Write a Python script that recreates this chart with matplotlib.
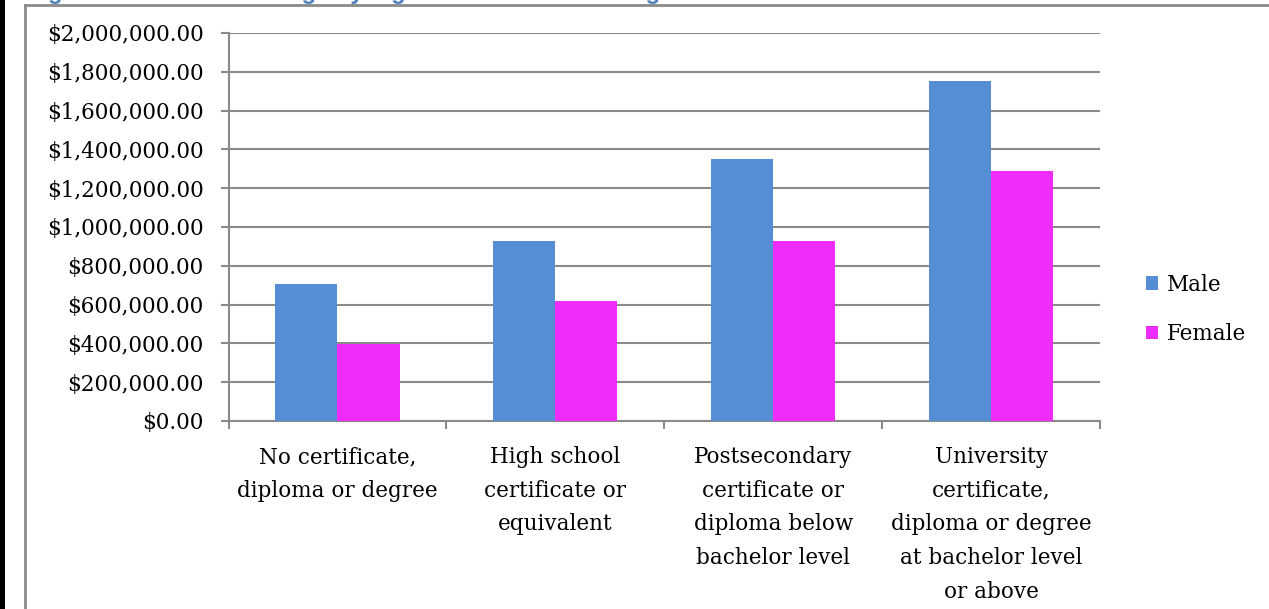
import matplotlib
matplotlib.use("Agg")
import matplotlib.pyplot as plt
import numpy as np
from matplotlib.lines import Line2D
from matplotlib.patches import Rectangle
from matplotlib.ticker import FuncFormatter, MultipleLocator

# lifetime earnings by highest level of education
categories = [
    "No certificate,\ndiploma or degree",
    "High school\ncertificate or\nequivalent",
    "Postsecondary\ncertificate or\ndiploma below\nbachelor level",
    "University\ncertificate,\ndiploma or degree\nat bachelor level\nor above",
]
male = [705000, 928000, 1352000, 1755000]
female = [397000, 616000, 929000, 1290000]
series_names = ["Male", "Female"]

MALE_COLOR = "#558ed5"
FEMALE_COLOR = "#f02cfa"
GRID = "#8a8a8a"
FONT = "DejaVu Serif"
FS = 15.5

plt.rcParams["font.family"] = FONT

W, H = 1269, 609
fig = plt.figure(figsize=(W / 100, H / 100), dpi=100)

# page decoration: dark margin bar, chart frame, clipped heading above
fig.add_artist(Rectangle((0, 0), 5 / W, 1, transform=fig.transFigure,
                         color="black", lw=0))
fig.add_artist(Line2D([24.5 / W, 24.5 / W], [0, 1 - 5 / H],
                      transform=fig.transFigure, color=GRID, lw=2))
fig.add_artist(Line2D([24.5 / W, 1], [1 - 5 / H, 1 - 5 / H],
                      transform=fig.transFigure, color=GRID, lw=2))
fig.text(27 / W, 1 + 1 / H, "Figure 3: Lifetime earnings by highest level of schooling",
         color="#4f81bd", fontsize=17, fontweight="bold", family="Liberation Sans",
         va="baseline", ha="left")

ax = fig.add_axes([228.5 / W, 1 - 421 / H, (1100 - 228.5) / W, (421 - 33) / H])

x = np.arange(len(categories))
bw = 0.285
ax.bar(x - bw / 2, male, bw, color=MALE_COLOR, label=series_names[0], zorder=3)
ax.bar(x + bw / 2, female, bw, color=FEMALE_COLOR, label=series_names[1], zorder=3)

ax.set_xlim(-0.5, len(categories) - 0.5)
ax.set_ylim(0, 2000000)
ax.yaxis.set_major_locator(MultipleLocator(200000))
ax.yaxis.set_major_formatter(FuncFormatter(lambda v, p: f"${v:,.2f}"))
ax.grid(axis="y", color=GRID, lw=1.5, zorder=0)

# category labels centred, ticks at the boundaries
ax.set_xticks(x)
ax.set_xticklabels(categories, fontsize=FS, linespacing=1.69)
ax.tick_params(axis="x", length=0, pad=18)
ax.set_xticks(np.arange(-0.5, len(categories)), minor=True)
ax.tick_params(axis="x", which="minor", length=6, width=1.5, color=GRID, direction="out")
ax.tick_params(axis="y", length=6, width=1.5, color=GRID, labelsize=FS, pad=12)

for side in ["top", "right"]:
    ax.spines[side].set_visible(False)
for side in ["left", "bottom"]:
    ax.spines[side].set_color(GRID)
    ax.spines[side].set_linewidth(1.5)

ax.legend(loc="center left", bbox_to_anchor=(1.03, 0.288), frameon=False,
          fontsize=FS, handlelength=0.6, handleheight=0.6, handletextpad=0.4,
          labelspacing=1.27)

fig.savefig("out.png", dpi=100)
